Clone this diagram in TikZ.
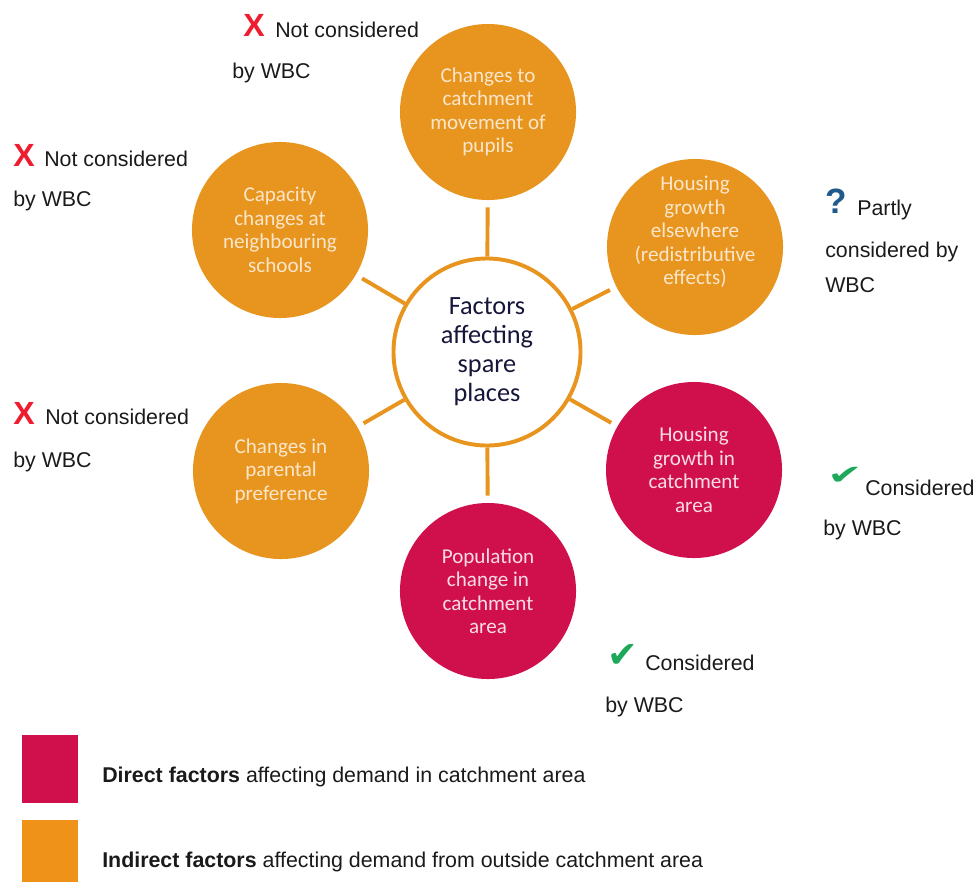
\documentclass[tikz,border=0pt]{standalone}
\usepackage{fontspec}
\setmainfont{Liberation Sans}
\newfontfamily\ballfont{Carlito}
\newfontfamily\symfont{DejaVu Sans}

\definecolor{spareorange}{HTML}{E8951F}
\definecolor{sparered}{HTML}{D0104C}
\definecolor{keyorange}{HTML}{EF921A}
\definecolor{orangetext}{HTML}{FBE6CA}
\definecolor{redtext}{HTML}{FADCE6}
\definecolor{hubtext}{HTML}{16163A}
\definecolor{notetext}{HTML}{1A1A1A}
\definecolor{markred}{HTML}{EE1C2E}
\definecolor{markgreen}{HTML}{1EA85A}
\definecolor{markblue}{HTML}{1F5A8E}

\tikzset{
  ball/.style={circle, minimum size=4.4cm, inner sep=0pt, align=center,
    font=\ballfont\fontsize{15}{16.7}\selectfont},
  indirect/.style={ball, fill=spareorange, text=orangetext},
  direct/.style={ball, fill=sparered, text=redtext},
  hub/.style={circle, draw=spareorange, line width=2.8pt, fill=white,
    minimum size=4.675cm, inner sep=0pt, align=center, text=hubtext,
    font=\ballfont\fontsize{18.7}{20.6}\selectfont},
  spoke/.style={draw=spareorange, line width=2.8pt, shorten >=5pt},
  note/.style={anchor=base west, inner sep=0pt, text=notetext,
    font=\fontsize{15.2}{18}\selectfont},
  nomark/.style={note, text=markred, font=\bfseries\fontsize{22.8}{24}\selectfont},
  partmark/.style={note, text=markblue, font=\bfseries\fontsize{25}{26}\selectfont},
  yesmark/.style={note, text=markgreen, font=\symfont\fontsize{26}{28}\selectfont},
  key/.style={rectangle, inner sep=0pt, minimum width=1.4cm}
}

\begin{document}
\begin{tikzpicture}[x=0.025cm, y=-0.025cm]
  \useasboundingbox (0,0) rectangle (977,882);

  % factor circles
  \node[hub] (hub) at (487,352) {Factors\\affecting\\spare\\places};
  \node[indirect] (catch) at (488,112) {Changes to\\catchment\\movement of\\pupils};
  \node[indirect] (capac) at (280,230) {Capacity\\changes at\\neighbouring\\schools};
  \node[indirect, label={[name=elsetext, ball, text=orangetext, yshift=0.375cm]center:{Housing\\growth\\elsewhere\\(redistributive\\effects)}}] (else) at (695,247) {};
  \node[indirect] (parent) at (281,471) {Changes in\\parental\\preference};
  \node[direct] (house) at (694,470) {Housing\\growth in\\catchment\\area};
  \node[direct] (popul) at (488,591) {Population\\change in\\catchment\\area};

  \draw[spoke] (hub) -- (catch);
  \draw[spoke] (hub) -- (capac);
  \draw[spoke] (hub) -- (else);
  \draw[spoke] (hub) -- (parent);
  \draw[spoke] (hub) -- (house);
  \draw[spoke] (hub) -- (popul);

  % notes
  \node[nomark] (catchx) at (243,36) {X};
  \node[note] (catchn) at (275,37) {Not considered};
  \node[note] (catchb) at (232,78) {by WBC};

  \node[nomark] (capacx) at (13,166) {X};
  \node[note] (capacn) at (44,166) {Not considered};
  \node[note] (capacb) at (13,206) {by WBC};

  \node[nomark] (parentx) at (13,424) {X};
  \node[note] (parentn) at (45,424) {Not considered};
  \node[note] (parentb) at (13,467) {by WBC};

  \node[partmark] (elseq) at (825,213) {?};
  \node[note] (elsen) at (857,215) {Partly};
  \node[note] (elsec) at (825,257) {considered by};
  \node[note] (elseb) at (825,292) {WBC};

  \node[yesmark] (housey) at (827,484) {\scalebox{1.15}[0.75]{✔}};
  \node[note] (housen) at (865,495) {Considered};
  \node[note] (houseb) at (823,535) {by WBC};

  \node[yesmark] (populy) at (607,667) {✔};
  \node[note] (populn) at (645,670) {Considered};
  \node[note] (populb) at (605,712) {by WBC};

  % key
  \node[key, fill=sparered, minimum height=1.7cm] (keydirect) at (50,769) {};
  \node[key, fill=keyorange, minimum height=1.55cm] (keyindirect) at (50,851) {};
  \node[note] (keydirecttext) at (102,782) {\textbf{Direct factors} affecting demand in catchment area};
  \node[note] (keyindirecttext) at (102,867) {\textbf{Indirect factors} affecting demand from outside catchment area};
\end{tikzpicture}
\end{document}
